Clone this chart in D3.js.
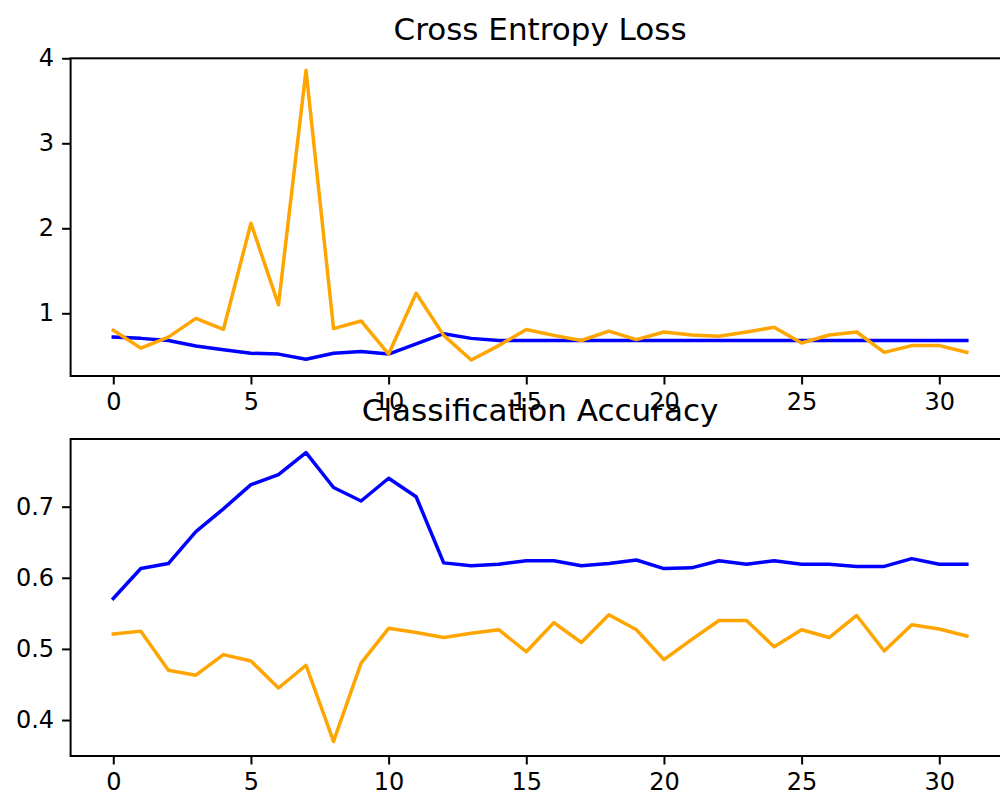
<!DOCTYPE html>
<html>
<head>
<meta charset="utf-8">
<script src="https://cdn.jsdelivr.net/npm/d3@7"></script>
<style>
  html, body { margin: 0; padding: 0; background: #fff; overflow: hidden; }
  svg { display: block; }
  text { font-family: "DejaVu Sans", sans-serif; fill: #000; }
</style>
</head>
<body>
<svg id="chart" width="1000" height="796"></svg>
<script>
// ---- data ----
const epochs = d3.range(32);
const xTicks = [0, 5, 10, 15, 20, 25, 30];

const lossTrain = [0.72, 0.705, 0.68, 0.615, 0.57, 0.53, 0.52, 0.46, 0.53, 0.55, 0.52, 0.64,
                   0.76, 0.705, 0.68, 0.68, 0.68, 0.68, 0.68, 0.68, 0.68, 0.68, 0.68, 0.68,
                   0.68, 0.68, 0.68, 0.68, 0.68, 0.68, 0.68, 0.68];
const lossVal   = [0.80, 0.59, 0.72, 0.94, 0.81, 2.06, 1.10, 3.86, 0.82, 0.91, 0.52, 1.235,
                   0.74, 0.45, 0.62, 0.81, 0.74, 0.68, 0.79, 0.69, 0.78, 0.745, 0.73, 0.78,
                   0.835, 0.65, 0.745, 0.78, 0.54, 0.62, 0.62, 0.54];
const lossTicks = [1, 2, 3, 4];

const accTrain = [0.571, 0.613, 0.620, 0.665, 0.697, 0.731, 0.745, 0.776, 0.727, 0.708, 0.740, 0.714,
                  0.621, 0.617, 0.619, 0.624, 0.624, 0.617, 0.620, 0.625, 0.613, 0.614, 0.624, 0.619,
                  0.624, 0.619, 0.619, 0.616, 0.616, 0.627, 0.619, 0.619];
const accVal   = [0.521, 0.525, 0.470, 0.463, 0.492, 0.483, 0.445, 0.477, 0.370, 0.480, 0.529, 0.523,
                  0.516, 0.522, 0.527, 0.496, 0.537, 0.509, 0.548, 0.527, 0.485, 0.513, 0.540, 0.540,
                  0.503, 0.527, 0.516, 0.547, 0.497, 0.534, 0.528, 0.518];
const accTicks = [0.4, 0.5, 0.6, 0.7];

const titles = ["Cross Entropy Loss", "Classification Accuracy"];

// ---- layout ----
const svg = d3.select("#chart");
svg.append("rect").attr("width", 1000).attr("height", 796).attr("fill", "#fff");

const left = 70.6, right = 1009.5;
const x = d3.scaleLinear().domain([-1.55, 32.55]).range([left, right]);

const panels = [
  { title: titles[0], top: 58.3, bottom: 376, domain: [0.2623, 4.0], ticks: lossTicks, fmt: d3.format("d"),
    series: [{ v: lossTrain, c: "#0000ff" }, { v: lossVal, c: "#ffa500" }] },
  { title: titles[1], top: 439, bottom: 756, domain: [0.3494, 0.7952], ticks: accTicks, fmt: d3.format(".1f"),
    series: [{ v: accTrain, c: "#0000ff" }, { v: accVal, c: "#ffa500" }] }
];

const tickFont = 24, titleFont = 31, tickLen = 8.5, tickPad = 8;

panels.forEach(p => {
  const y = d3.scaleLinear().domain(p.domain).range([p.bottom, p.top]);
  const g = svg.append("g");

  const line = d3.line().x((d, i) => x(epochs[i])).y(d => y(d));
  p.series.forEach(s => {
    g.append("path").datum(s.v)
      .attr("d", line)
      .attr("fill", "none")
      .attr("stroke", s.c)
      .attr("stroke-width", 3.5)
      .attr("stroke-linejoin", "round")
      .attr("stroke-linecap", "square");
  });

  // frame
  g.append("rect")
    .attr("x", left).attr("y", p.top)
    .attr("width", right - left).attr("height", p.bottom - p.top)
    .attr("fill", "none").attr("stroke", "#000").attr("stroke-width", 2);

  // x axis
  const xAxis = d3.axisBottom(x).tickValues(xTicks).tickFormat(d3.format("d"))
    .tickSize(tickLen).tickPadding(tickPad);
  const gx = g.append("g").attr("transform", `translate(0,${p.bottom})`).call(xAxis);
  gx.select(".domain").remove();
  gx.selectAll(".tick line").attr("stroke", "#000").attr("stroke-width", 2);
  gx.selectAll(".tick text").attr("font-size", tickFont).attr("font-family", "DejaVu Sans").attr("fill", "#222");

  // y axis
  const yAxis = d3.axisLeft(y).tickValues(p.ticks).tickFormat(p.fmt)
    .tickSize(tickLen).tickPadding(tickPad);
  const gy = g.append("g").attr("transform", `translate(${left},0)`).call(yAxis);
  gy.select(".domain").remove();
  gy.selectAll(".tick line").attr("stroke", "#000").attr("stroke-width", 2);
  gy.selectAll(".tick text").attr("font-size", tickFont).attr("font-family", "DejaVu Sans").attr("fill", "#222");

  // title
  g.append("text")
    .attr("x", (left + right) / 2)
    .attr("y", p.top - 18)
    .attr("text-anchor", "middle")
    .attr("font-size", titleFont)
    .attr("fill", "#222")
    .text(p.title);
});
</script>
</body>
</html>
